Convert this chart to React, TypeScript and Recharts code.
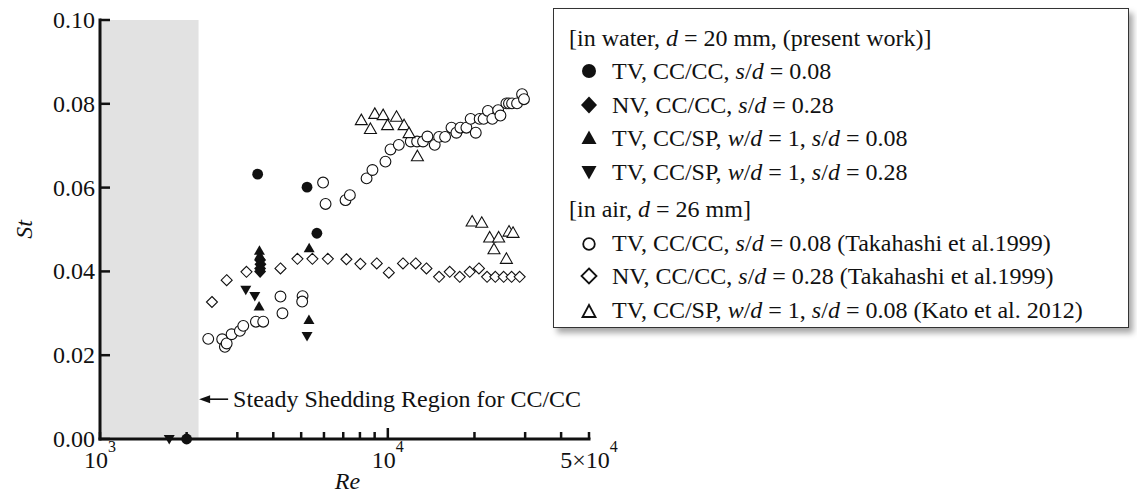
import React from 'react';
import { ScatterChart, Scatter, XAxis, YAxis, ReferenceArea, ReferenceDot, Legend } from 'recharts';

const FONT = '"Liberation Serif", "Times New Roman", serif';
const INK = '#111';

// ---- data (Re, St) ----
const waterTvCcCc = [
  { re: 2000, st: 0 },
  { re: 3530, st: 0.0632 },
  { re: 5240, st: 0.0601 },
  { re: 5670, st: 0.0491 },
];
const waterNvCcCc = [
  { re: 3600, st: 0.0427 },
  { re: 3610, st: 0.0417 },
  { re: 3600, st: 0.0407 },
  { re: 3600, st: 0.04 },
];
const waterTvCcSp008 = [
  { re: 3580, st: 0.0449 },
  { re: 3590, st: 0.0438 },
  { re: 3570, st: 0.0316 },
  { re: 5330, st: 0.0455 },
  { re: 5320, st: 0.0284 },
];
const waterTvCcSp028 = [
  { re: 1740, st: 0 },
  { re: 3210, st: 0.0356 },
  { re: 3450, st: 0.0341 },
  { re: 5240, st: 0.0246 },
];
const airTvCcCc = [
  { re: 2377, st: 0.0239 }, { re: 2658, st: 0.0238 }, { re: 2716, st: 0.022 }, { re: 2755, st: 0.0228 },
  { re: 2866, st: 0.025 }, { re: 3062, st: 0.0258 }, { re: 3146, st: 0.027 }, { re: 3481, st: 0.028 },
  { re: 3690, st: 0.028 }, { re: 4237, st: 0.034 }, { re: 4305, st: 0.03 }, { re: 5056, st: 0.0341 },
  { re: 5040, st: 0.0328 }, { re: 5957, st: 0.0612 }, { re: 6077, st: 0.0561 }, { re: 7130, st: 0.057 },
  { re: 7381, st: 0.0582 }, { re: 8437, st: 0.0622 }, { re: 8843, st: 0.0642 }, { re: 9812, st: 0.0662 },
  { re: 10216, st: 0.0691 }, { re: 10918, st: 0.0702 }, { re: 12018, st: 0.071 }, { re: 12640, st: 0.071 },
  { re: 13254, st: 0.071 }, { re: 13727, st: 0.0722 }, { re: 14552, st: 0.0702 }, { re: 15066, st: 0.0721 },
  { re: 15810, st: 0.0721 }, { re: 16640, st: 0.0743 }, { re: 17310, st: 0.0731 }, { re: 17870, st: 0.0743 },
  { re: 18750, st: 0.0743 }, { re: 19400, st: 0.0764 }, { re: 20210, st: 0.0731 }, { re: 20850, st: 0.0764 },
  { re: 21520, st: 0.0764 }, { re: 22270, st: 0.0783 }, { re: 23070, st: 0.0764 }, { re: 24170, st: 0.0785 },
  { re: 24620, st: 0.0772 }, { re: 25820, st: 0.0801 }, { re: 26360, st: 0.0801 }, { re: 27020, st: 0.0801 },
  { re: 28120, st: 0.0801 }, { re: 29270, st: 0.0823 }, { re: 29720, st: 0.0811 },
];
const airNvCcCc = [
  { re: 2449, st: 0.0327 }, { re: 2755, st: 0.0379 }, { re: 3228, st: 0.0399 }, { re: 4237, st: 0.0407 },
  { re: 4853, st: 0.043 }, { re: 5470, st: 0.043 }, { re: 6189, st: 0.043 }, { re: 7180, st: 0.0429 },
  { re: 8030, st: 0.0418 }, { re: 9152, st: 0.0419 }, { re: 10080, st: 0.0397 }, { re: 11290, st: 0.0419 },
  { re: 12500, st: 0.0419 }, { re: 13620, st: 0.0407 }, { re: 15070, st: 0.0387 }, { re: 16410, st: 0.0399 },
  { re: 17780, st: 0.0387 }, { re: 19260, st: 0.0399 }, { re: 20730, st: 0.0407 }, { re: 22120, st: 0.0387 },
  { re: 23630, st: 0.0387 }, { re: 25260, st: 0.0387 }, { re: 26920, st: 0.0387 }, { re: 28710, st: 0.0387 },
];
const airTvCcSp = [
  { re: 8090, st: 0.0761 }, { re: 8700, st: 0.074 }, { re: 9010, st: 0.0776 }, { re: 9632, st: 0.0773 },
  { re: 9980, st: 0.0749 }, { re: 10720, st: 0.0769 }, { re: 11390, st: 0.0749 }, { re: 11850, st: 0.073 },
  { re: 12670, st: 0.0675 }, { re: 19630, st: 0.0519 }, { re: 21200, st: 0.0516 }, { re: 22590, st: 0.0481 },
  { re: 24270, st: 0.0481 }, { re: 26370, st: 0.0495 }, { re: 27230, st: 0.0492 }, { re: 23380, st: 0.0453 },
  { re: 25820, st: 0.043 },
];

const steadyRegion = { from: 1000, to: 2200 };
const steadyNote = { re: 2210, st: 0.0095, text: 'Steady Shedding Region for CC/CC' };

const xTicks = [1000, 2000, 3000, 4000, 5000, 6000, 7000, 8000, 9000, 10000, 20000, 30000, 40000, 50000];
const xTickLabels: Record<number, [string, string]> = {
  1000: ['10', '3'],
  10000: ['10', '4'],
  50000: ['5×10', '4'],
};
const xMajor = [10000];
const yTicks = [0, 0.02, 0.04, 0.06, 0.08, 0.1];
const yTickLabels = ['0.00', '0.02', '0.04', '0.06', '0.08', '0.10'];

// ---- marker shapes ----
const FilledCircle = (p: any) => <circle cx={p.cx} cy={p.cy} r={5.4} fill={INK} />;
const OpenCircle = (p: any) => <circle cx={p.cx} cy={p.cy} r={5.4} fill="#fff" stroke={INK} strokeWidth={1.1} />;
const FilledDiamond = (p: any) => {
  const { cx, cy } = p;
  return <polygon points={`${cx},${cy - 6.5} ${cx + 6},${cy} ${cx},${cy + 6.5} ${cx - 6},${cy}`} fill={INK} />;
};
const OpenDiamond = (p: any) => {
  const { cx, cy } = p;
  return <polygon points={`${cx},${cy - 5.5} ${cx + 5.5},${cy} ${cx},${cy + 5.5} ${cx - 5.5},${cy}`} fill="#fff" stroke={INK} strokeWidth={1.1} />;
};
const FilledUp = (p: any) => {
  const { cx, cy } = p;
  return <polygon points={`${cx},${cy - 5.5} ${cx + 5.5},${cy + 4} ${cx - 5.5},${cy + 4}`} fill={INK} />;
};
const FilledDown = (p: any) => {
  const { cx, cy } = p;
  return <polygon points={`${cx},${cy + 5.5} ${cx + 5.5},${cy - 4} ${cx - 5.5},${cy - 4}`} fill={INK} />;
};
const OpenUp = (p: any) => {
  const { cx, cy } = p;
  return <polygon points={`${cx},${cy - 6} ${cx + 6},${cy + 4.5} ${cx - 6},${cy + 4.5}`} fill="#fff" stroke={INK} strokeWidth={1.1} />;
};

// ---- axis ticks (drawn inward) ----
const BottomTick = (props: any) => {
  const { x, y, payload } = props;
  const v = payload.value;
  const lab = xTickLabels[v];
  const len = xMajor.includes(v) ? 11 : 7;
  return (
    <g>
      <line x1={x} x2={x} y1={y} y2={y - len} stroke={INK} strokeWidth={2.5} />
      {lab && (
        <text x={x} y={y + 29} textAnchor="middle" fontFamily={FONT} fontSize={24} fill={INK}>
          {lab[0]}
          <tspan dy={-16} fontSize={16}>{lab[1]}</tspan>
        </text>
      )}
    </g>
  );
};
const TopTick = (props: any) => {
  const { x, y, payload } = props;
  const len = xMajor.includes(payload.value) ? 11 : 7;
  return <line x1={x} x2={x} y1={y} y2={y + len} stroke={INK} strokeWidth={2.5} />;
};
const LeftTick = (props: any) => {
  const { x, y, index } = props;
  return (
    <g>
      <line x1={x} x2={x + 10} y1={y} y2={y} stroke={INK} strokeWidth={2.5} />
      <text x={x - 5} y={y} dy={8} textAnchor="end" fontFamily={FONT} fontSize={24} fill={INK}>
        {yTickLabels[index]}
      </text>
    </g>
  );
};
const RightTick = (props: any) => {
  const { x, y } = props;
  return <line x1={x} x2={x - 10} y1={y} y2={y} stroke={INK} strokeWidth={2.5} />;
};

const StLabel = (props: any) => {
  const vb = props.viewBox || {};
  const cx = vb.x + 14;
  const cy = vb.y + vb.height / 2;
  return (
    <text x={cx} y={cy} transform={`rotate(-90 ${cx} ${cy})`} textAnchor="middle" dy={8} fontFamily={FONT} fontStyle="italic" fontSize={24} fill={INK}>
      St
    </text>
  );
};
const ReLabel = (props: any) => {
  const vb = props.viewBox || {};
  return (
    <text x={vb.x + vb.width / 2 + 3} y={vb.y + 50} textAnchor="middle" fontFamily={FONT} fontStyle="italic" fontSize={24} fill={INK}>
      Re
    </text>
  );
};

const Note = (p: any) => {
  const { cx, cy } = p;
  return (
    <g>
      <polygon points={`${cx},${cy} ${cx + 11},${cy - 4} ${cx + 11},${cy + 4}`} fill={INK} />
      <line x1={cx + 10} x2={cx + 29} y1={cy} y2={cy} stroke={INK} strokeWidth={1.6} />
      <text x={cx + 34} y={cy} dy={8} fontFamily={FONT} fontSize={24} fill={INK}>
        {steadyNote.text}
      </text>
    </g>
  );
};

// ---- legend ----
type Sym = 'fc' | 'fd' | 'fu' | 'fdn' | 'oc' | 'od' | 'ou';
const LegendSym = ({ s }: { s: Sym }) => {
  const c = 10;
  let el: any = null;
  if (s === 'fc') el = <circle cx={c} cy={c} r={7} fill={INK} />;
  if (s === 'fd') el = <polygon points={`${c},${c - 8.5} ${c + 8},${c} ${c},${c + 8.5} ${c - 8},${c}`} fill={INK} />;
  if (s === 'fu') el = <polygon points={`${c},${c - 7.5} ${c + 7.5},${c + 6} ${c - 7.5},${c + 6}`} fill={INK} />;
  if (s === 'fdn') el = <polygon points={`${c},${c + 7.5} ${c + 7.5},${c - 6} ${c - 7.5},${c - 6}`} fill={INK} />;
  if (s === 'oc') el = <circle cx={c} cy={c + 1} r={5.8} fill="#fff" stroke={INK} strokeWidth={1.8} />;
  if (s === 'od') el = <polygon points={`${c},${c - 7.5} ${c + 7.5},${c} ${c},${c + 7.5} ${c - 7.5},${c}`} fill="#fff" stroke={INK} strokeWidth={1.8} />;
  if (s === 'ou') el = <polygon points={`${c},${c - 5} ${c + 6.5},${c + 7} ${c - 6.5},${c + 7}`} fill="#fff" stroke={INK} strokeWidth={1.8} />;
  return (
    <svg width={20} height={20} style={{ marginLeft: 25, marginRight: 13, flex: 'none' }}>
      {el}
    </svg>
  );
};

const rowStyle: React.CSSProperties = { height: 33.5, display: 'flex', alignItems: 'center', whiteSpace: 'nowrap' };
const I = ({ children }: any) => <span style={{ fontStyle: 'italic' }}>{children}</span>;

const LegendBox = () => (
  <div
    style={{
      boxSizing: 'border-box',
      width: 576,
      height: 320,
      border: '1.5px solid #333',
      background: '#fff',
      boxShadow: '4px 5px 6px rgba(0,0,0,0.35)',
      fontFamily: FONT,
      fontSize: 24,
      color: INK,
      paddingTop: 12,
      textAlign: 'left',
      lineHeight: 1,
    }}
  >
    <div style={{ ...rowStyle, paddingLeft: 15 }}>
      [in water,&nbsp;<I>d</I>&nbsp;= 20 mm, (present work)]
    </div>
    <div style={rowStyle}><LegendSym s="fc" />TV, CC/CC,&nbsp;<I>s</I>/<I>d</I>&nbsp;= 0.08</div>
    <div style={rowStyle}><LegendSym s="fd" />NV, CC/CC,&nbsp;<I>s</I>/<I>d</I>&nbsp;= 0.28</div>
    <div style={rowStyle}><LegendSym s="fu" />TV, CC/SP,&nbsp;<I>w</I>/<I>d</I>&nbsp;= 1,&nbsp;<I>s</I>/<I>d</I>&nbsp;= 0.08</div>
    <div style={rowStyle}><LegendSym s="fdn" />TV, CC/SP,&nbsp;<I>w</I>/<I>d</I>&nbsp;= 1,&nbsp;<I>s</I>/<I>d</I>&nbsp;= 0.28</div>
    <div style={{ ...rowStyle, paddingLeft: 15, marginTop: 4 }}>
      [in air,&nbsp;<I>d</I>&nbsp;= 26 mm]
    </div>
    <div style={rowStyle}><LegendSym s="oc" />TV, CC/CC,&nbsp;<I>s</I>/<I>d</I>&nbsp;= 0.08 (Takahashi et al.1999)</div>
    <div style={rowStyle}><LegendSym s="od" />NV, CC/CC,&nbsp;<I>s</I>/<I>d</I>&nbsp;= 0.28 (Takahashi et al.1999)</div>
    <div style={rowStyle}><LegendSym s="ou" />TV, CC/SP,&nbsp;<I>w</I>/<I>d</I>&nbsp;= 1,&nbsp;<I>s</I>/<I>d</I>&nbsp;= 0.08 (Kato et al. 2012)</div>
  </div>
);

const axisLine = { stroke: INK, strokeWidth: 3, strokeLinecap: 'square' as const };

export default function App() {
  return (
    <div style={{ position: 'absolute', left: 0, top: 0, width: 1137, height: 495, background: '#fff' }}>
      <ScatterChart width={1137} height={495} margin={{ top: 20, right: 548, bottom: 0, left: 10 }}>
        <XAxis
          xAxisId="b"
          dataKey="re"
          type="number"
          scale="log"
          domain={[1000, 50000]}
          ticks={xTicks}
          interval={0}
          tick={<BottomTick />}
          tickLine={false}
          tickSize={0}
          tickMargin={0}
          axisLine={axisLine}
          height={56}
          label={<ReLabel />}
        />
        <XAxis
          xAxisId="t"
          orientation="top"
          dataKey="re"
          type="number"
          scale="log"
          domain={[1000, 50000]}
          allowDataOverflow
          ticks={xTicks}
          interval={0}
          tick={<TopTick />}
          tickLine={false}
          tickSize={0}
          tickMargin={0}
          axisLine={axisLine}
          height={0}
        />
        <YAxis
          yAxisId="l"
          dataKey="st"
          type="number"
          domain={[0, 0.1]}
          ticks={yTicks}
          interval={0}
          tick={<LeftTick />}
          tickLine={false}
          tickSize={0}
          tickMargin={0}
          axisLine={axisLine}
          width={90}
          label={<StLabel />}
        />
        <YAxis
          yAxisId="r"
          orientation="right"
          dataKey="st"
          type="number"
          domain={[0, 0.1]}
          allowDataOverflow
          ticks={yTicks}
          interval={0}
          tick={<RightTick />}
          tickLine={false}
          tickSize={0}
          tickMargin={0}
          axisLine={axisLine}
          width={0}
        />
        <ReferenceArea
          xAxisId="b"
          yAxisId="l"
          x1={steadyRegion.from}
          x2={steadyRegion.to}
          y1={0}
          y2={0.1}
          fill="#e2e2e2"
          fillOpacity={1}
          stroke="none"
        />
        <Scatter name="air TV CC/CC" data={airTvCcCc} xAxisId="b" yAxisId="l" shape={OpenCircle} isAnimationActive={false} />
        <Scatter name="air NV CC/CC" data={airNvCcCc} xAxisId="b" yAxisId="l" shape={OpenDiamond} isAnimationActive={false} />
        <Scatter name="air TV CC/SP" data={airTvCcSp} xAxisId="b" yAxisId="l" shape={OpenUp} isAnimationActive={false} />
        <Scatter name="water NV CC/CC" data={waterNvCcCc} xAxisId="b" yAxisId="l" shape={FilledDiamond} isAnimationActive={false} />
        <Scatter name="water TV CC/CC" data={waterTvCcCc} xAxisId="b" yAxisId="l" shape={FilledCircle} isAnimationActive={false} />
        <Scatter name="water TV CC/SP 0.08" data={waterTvCcSp008} xAxisId="b" yAxisId="l" shape={FilledUp} isAnimationActive={false} />
        <Scatter name="water TV CC/SP 0.28" data={waterTvCcSp028} xAxisId="b" yAxisId="l" shape={FilledDown} isAnimationActive={false} />
        <ReferenceDot
          xAxisId="b"
          yAxisId="l"
          x={steadyNote.re}
          y={steadyNote.st}
          r={0}
          ifOverflow="visible"
          shape={Note}
        />
        <Legend
          layout="vertical"
          align="center"
          verticalAlign="middle"
          content={() => <LegendBox />}
          wrapperStyle={{ left: 553, top: 8, width: 576, height: 320 }}
        />
      </ScatterChart>
    </div>
  );
}
